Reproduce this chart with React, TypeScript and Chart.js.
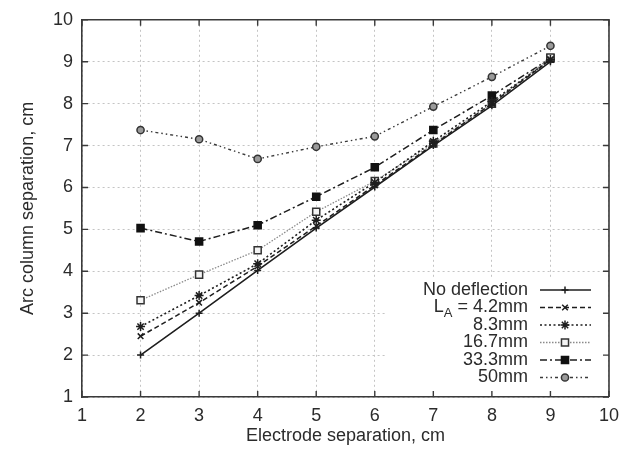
import React, { useEffect, useRef } from 'react';
import { Chart, registerables } from 'chart.js';
import { drawPoint } from 'chart.js/helpers';

Chart.register(...registerables);

const electrodeSeparation = [2, 3, 4, 5, 6, 7, 8, 9];
const noDeflection = [2.0, 3.0, 4.02, 5.03, 6.01, 7.0, 7.95, 9.0];
const la42 = [2.45, 3.25, 4.12, 5.08, 6.05, 7.02, 8.0, 9.05];
const la83 = [2.68, 3.42, 4.18, 5.22, 6.12, 7.1, 8.05, 9.05];
const la167 = [3.31, 3.92, 4.5, 5.42, 6.15, 7.05, 8.0, 9.1];
const la333 = [5.03, 4.71, 5.1, 5.78, 6.48, 7.37, 8.19, 9.08];
const la50 = [7.37, 7.15, 6.68, 6.97, 7.22, 7.93, 8.64, 9.38];
const seriesLabels = ['No deflection', 'L_A = 4.2mm', '8.3mm', '16.7mm', '33.3mm', '50mm'];
const xTickValues = [1, 2, 3, 4, 5, 6, 7, 8, 9, 10];
const yTickValues = [1, 2, 3, 4, 5, 6, 7, 8, 9, 10];
const xTitle = 'Electrode separation, cm';
const yTitle = 'Arc column separation, cm';

const FONT = '"Liberation Sans", Arial, sans-serif';
const INK = '#2b2b2b';

type Style = {
  dash: number[];
  color: string;
  width: number;
  pointStyle: string;
  radius: number;
  fill: string;
  pointBorder: string;
};

const styles: Style[] = [
  { dash: [], color: '#1e1e1e', width: 1.6, pointStyle: 'cross', radius: 3.5, fill: '#1e1e1e', pointBorder: '#1e1e1e' },
  { dash: [5, 3], color: '#1e1e1e', width: 1.5, pointStyle: 'crossRot', radius: 4, fill: '#1e1e1e', pointBorder: '#1e1e1e' },
  { dash: [2, 2.5], color: '#1e1e1e', width: 1.6, pointStyle: 'star', radius: 4.5, fill: '#1e1e1e', pointBorder: '#1e1e1e' },
  { dash: [1.5, 1.5], color: '#8a8a8a', width: 1.3, pointStyle: 'rect', radius: 5, fill: '#f4f4f4', pointBorder: '#333' },
  { dash: [7, 3, 2, 3], color: '#1e1e1e', width: 1.5, pointStyle: 'rect', radius: 5, fill: '#111', pointBorder: '#111' },
  { dash: [3, 3, 1.5, 3, 1.5, 3], color: '#3a3a3a', width: 1.4, pointStyle: 'circle', radius: 3.6, fill: '#9a9a9a', pointBorder: '#333' },
];

const seriesValues = [noDeflection, la42, la83, la167, la333, la50];

const framePlugin = {
  id: 'frame',
  beforeDatasetsDraw(chart: any) {
    const { ctx, chartArea } = chart;
    ctx.save();
    ctx.fillStyle = '#ffffff';
    ctx.fillRect(385, 277, chartArea.right - 385 - 1, chartArea.bottom - 277 - 1);
    ctx.restore();
  },
  afterDraw(chart: any) {
    const { ctx, chartArea, scales } = chart;
    const { left, right, top, bottom } = chartArea;
    ctx.save();
    ctx.strokeStyle = '#3a3a3a';
    ctx.lineWidth = 1.6;
    ctx.setLineDash([]);
    ctx.beginPath();
    ctx.moveTo(left, top);
    ctx.lineTo(right, top);
    ctx.lineTo(right, bottom);
    ctx.stroke();
    const tl = 6;
    ctx.lineWidth = 1.4;
    ctx.beginPath();
    xTickValues.forEach((v) => {
      const px = scales.x.getPixelForValue(v);
      ctx.moveTo(px, bottom);
      ctx.lineTo(px, bottom - tl);
      ctx.moveTo(px, top);
      ctx.lineTo(px, top + tl);
    });
    yTickValues.forEach((v) => {
      const py = scales.y.getPixelForValue(v);
      ctx.moveTo(left, py);
      ctx.lineTo(left + tl, py);
      ctx.moveTo(right, py);
      ctx.lineTo(right - tl, py);
    });
    ctx.stroke();

    const textRight = 528;
    const lineX0 = 540;
    const lineX1 = 591;
    const markX = 565;
    const rowY = [290, 307.5, 325, 342.5, 360, 377.5];
    ctx.font = `18px ${FONT}`;
    ctx.textBaseline = 'middle';
    ctx.fillStyle = INK;
    seriesLabels.forEach((label, i) => {
      const y = rowY[i];
      if (label.startsWith('L_A')) {
        const rest = label.slice(3);
        ctx.font = `18px ${FONT}`;
        const wRest = ctx.measureText(rest).width;
        ctx.font = `13px ${FONT}`;
        const wSub = ctx.measureText('A').width;
        ctx.font = `18px ${FONT}`;
        const wL = ctx.measureText('L').width;
        const start = textRight - wRest - wSub - wL;
        ctx.textAlign = 'left';
        ctx.fillText('L', start, y);
        ctx.font = `13px ${FONT}`;
        ctx.fillText('A', start + wL, y + 6);
        ctx.font = `18px ${FONT}`;
        ctx.fillText(rest, start + wL + wSub, y);
      } else {
        ctx.textAlign = 'right';
        ctx.fillText(label, textRight, y);
      }
      const s = styles[i];
      ctx.save();
      ctx.strokeStyle = s.color;
      ctx.lineWidth = s.width;
      ctx.setLineDash(s.dash);
      ctx.beginPath();
      ctx.moveTo(lineX0, y);
      ctx.lineTo(lineX1, y);
      ctx.stroke();
      ctx.setLineDash([]);
      ctx.strokeStyle = s.pointBorder;
      ctx.fillStyle = s.fill;
      ctx.lineWidth = 1.5;
      drawPoint(ctx, { pointStyle: s.pointStyle as any, rotation: 0, radius: s.radius, borderWidth: 1.5 }, markX, y);
      ctx.restore();
      ctx.fillStyle = INK;
    });
    ctx.restore();
  },
};

export default function App() {
  const ref = useRef<HTMLCanvasElement | null>(null);
  useEffect(() => {
    document.body.style.margin = '0';
    if (!ref.current) return;
    const chart = new Chart(ref.current, {
      type: 'line',
      data: {
        datasets: seriesValues.map((vals, i) => ({
          label: seriesLabels[i],
          data: electrodeSeparation.map((x, j) => ({ x, y: vals[j] })),
          borderColor: styles[i].color,
          borderWidth: styles[i].width,
          borderDash: styles[i].dash,
          pointStyle: styles[i].pointStyle as any,
          pointRadius: styles[i].radius,
          pointBackgroundColor: styles[i].fill,
          pointBorderColor: styles[i].pointBorder,
          pointBorderWidth: 1.5,
          fill: false,
          tension: 0,
        })),
      },
      options: {
        animation: false,
        responsive: false,
        maintainAspectRatio: false,
        layout: { padding: { top: 16, right: 18, left: 0, bottom: 0 } },
        plugins: { legend: { display: false }, tooltip: { enabled: false } },
        scales: {
          x: {
            type: 'linear',
            min: 1,
            max: 10,
            afterFit: (s: any) => { s.height = 56; },
            afterBuildTicks: (s: any) => { s.ticks = xTickValues.map((v) => ({ value: v })); },
            ticks: { color: INK, font: { family: FONT, size: 18 }, padding: 8, maxRotation: 0 },
            grid: { color: '#c4c4c4', lineWidth: 1, drawTicks: false },
            border: { display: true, color: '#3a3a3a', width: 1.6, dash: [2, 3] },
            title: { display: true, text: xTitle, color: INK, font: { family: FONT, size: 18 }, padding: { top: 0, bottom: 6 } },
          },
          y: {
            type: 'linear',
            min: 1,
            max: 10,
            afterFit: (s: any) => { s.width = 82; },
            afterBuildTicks: (s: any) => { s.ticks = yTickValues.map((v) => ({ value: v })); },
            ticks: { color: INK, font: { family: FONT, size: 18 }, padding: 9 },
            grid: { color: '#c4c4c4', lineWidth: 1, drawTicks: false },
            border: { display: true, color: '#3a3a3a', width: 1.6, dash: [2, 3] },
            title: { display: true, text: yTitle, color: INK, font: { family: FONT, size: 18 }, padding: { top: 17, bottom: 0 } },
          },
        },
      },
      plugins: [framePlugin],
    });
    return () => chart.destroy();
  }, []);
  return (
    <div style={{ width: 627, height: 453 }}>
      <canvas ref={ref} width={627} height={453} style={{ display: 'block' }} />
    </div>
  );
}
